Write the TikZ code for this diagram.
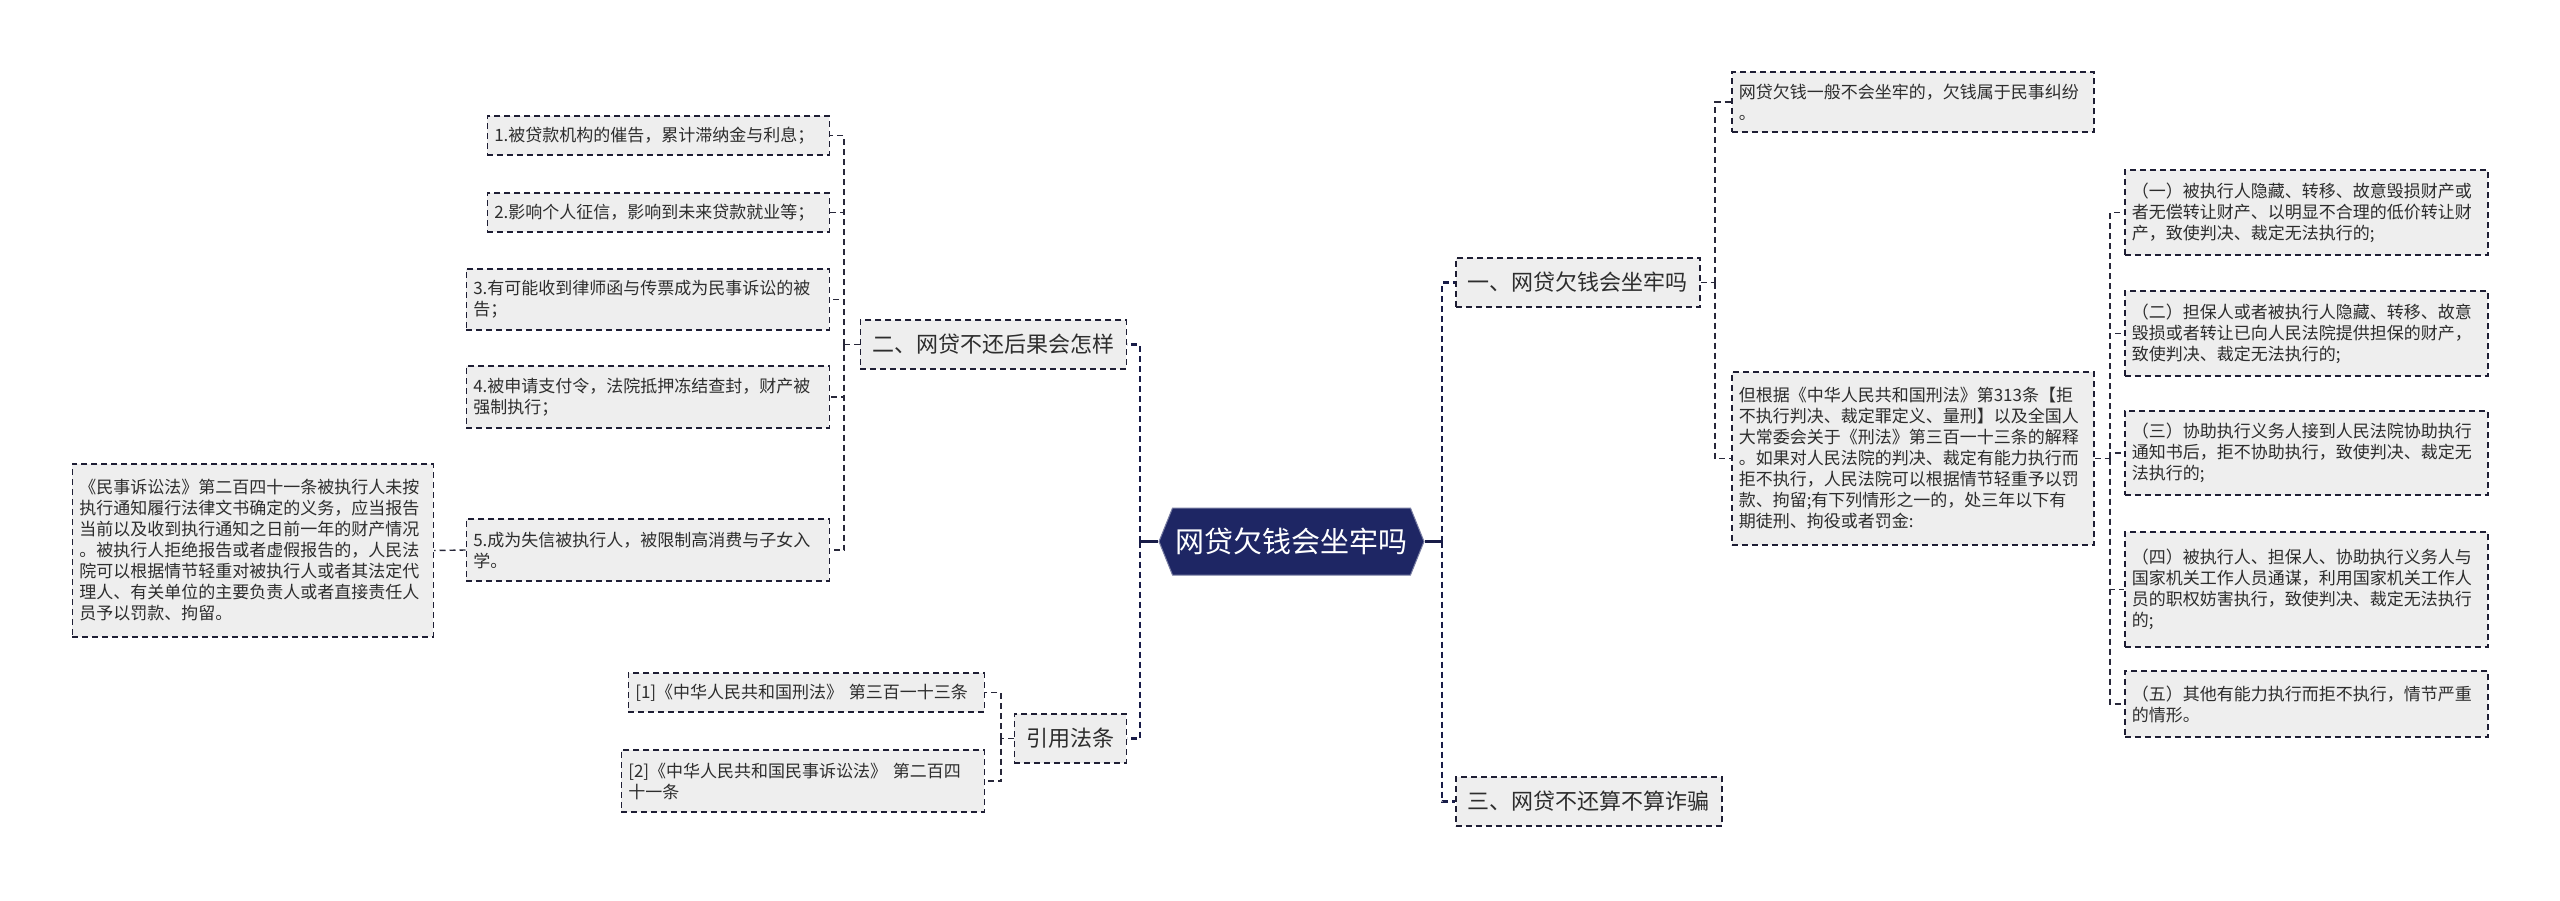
\documentclass[tikz,border=0pt]{standalone}
\usepackage{fontspec}
\newfontfamily\cjk{Noto Sans CJK SC}
\usetikzlibrary{shapes.symbols}
\definecolor{rootblue}{RGB}{30,38,100}
\definecolor{boxgray}{RGB}{238,238,238}
\definecolor{edgeblue}{RGB}{30,30,52}
\definecolor{trunkblue}{RGB}{24,28,72}
\definecolor{linegray}{RGB}{40,40,58}
\definecolor{textgray}{RGB}{45,45,45}

\tikzset{
  box/.style={draw=edgeblue, line width=1.5pt, dash pattern=on 6pt off 4pt,
    fill=boxgray, text=textgray, inner ysep=0pt},
  branch/.style={box, font=\cjk\fontsize{22}{26}\selectfont, inner xsep=12pt,
    minimum height=49pt},
  leaf/.style={box, font=\cjk\fontsize{17}{21}\selectfont, align=left,
    inner xsep=7pt},
  rootlink/.style={draw=trunkblue, line width=2.5pt},
  mainlink/.style={draw=trunkblue, line width=2.5pt, dash pattern=on 6pt off 4pt},
  leaflink/.style={draw=linegray, line width=1.4pt, dash pattern=on 6pt off 4pt},
}

\begin{document}
\begin{tikzpicture}[x=1pt,y=-1pt]

% Background
\fill[white] (0,0) rectangle (2560,900);
\useasboundingbox (0,0) rectangle (2560,900);

% Root
\node[signal, signal to=west and east, signal pointer angle=136,
  fill=rootblue, draw=rootblue!60!white, line width=1pt, text=white,
  font=\cjk\fontsize{29}{32}\selectfont, minimum width=265pt,
  minimum height=67pt, inner sep=0pt] (root) at (1291.5,541.5) {网贷欠钱会坐牢吗};

% Branches
\node[branch, anchor=east] (b2) at (1127,344.5) {二、网贷不还后果会怎样};
\node[branch, anchor=east] (b4) at (1127,738.5) {引用法条};
\node[branch, anchor=west] (b1) at (1455,282.5) {一、网贷欠钱会坐牢吗};
\node[branch, anchor=west] (b3) at (1455,801.5) {三、网贷不还算不算诈骗};

% Left leaves
\node[leaf, anchor=east, text width=328pt, minimum height=39pt] (i1) at (830,135.5)
  {1.被贷款机构的催告，累计滞纳金与利息；};
\node[leaf, anchor=east, text width=328pt, minimum height=39pt] (i2) at (830,212.5)
  {2.影响个人征信，影响到未来贷款就业等；};
\node[leaf, anchor=east, text width=349pt, minimum height=61pt] (i3) at (830,299.5)
  {3.有可能收到律师函与传票成为民事诉讼的被\\告；};
\node[leaf, anchor=east, text width=349pt, minimum height=62pt] (i4) at (830,397)
  {4.被申请支付令，法院抵押冻结查封，财产被\\强制执行；};
\node[leaf, anchor=east, text width=349pt, minimum height=62pt] (i5) at (830,550)
  {5.成为失信被执行人，被限制高消费与子女入\\学。};
\node[leaf, anchor=east, text width=347pt, minimum height=173pt] (note) at (434,550.5)
  {《民事诉讼法》第二百四十一条被执行人未按\\执行通知履行法律文书确定的义务，应当报告\\当前以及收到执行通知之日前一年的财产情况\\。被执行人拒绝报告或者虚假报告的，人民法\\院可以根据情节轻重对被执行人或者其法定代\\理人、有关单位的主要负责人或者直接责任人\\员予以罚款、拘留。};
\node[leaf, anchor=east, text width=342pt, minimum height=39pt] (ref1) at (985,692.5)
  {[1]《中华人民共和国刑法》 第三百一十三条};
\node[leaf, anchor=east, text width=349pt, minimum height=62pt] (ref2) at (985,781)
  {[2]《中华人民共和国民事诉讼法》 第二百四\\十一条};

% Right leaves
\node[leaf, anchor=west, text width=348pt, minimum height=60pt] (r1) at (1731,102)
  {网贷欠钱一般不会坐牢的，欠钱属于民事纠纷\\。};
\node[leaf, anchor=west, text width=348pt, minimum height=173pt] (r2) at (1731,458.5)
  {但根据《中华人民共和国刑法》第313条【拒\\不执行判决、裁定罪定义、量刑】以及全国人\\大常委会关于《刑法》第三百一十三条的解释\\。如果对人民法院的判决、裁定有能力执行而\\拒不执行，人民法院可以根据情节轻重予以罚\\款、拘留;有下列情形之一的，处三年以下有\\期徒刑、拘役或者罚金:};
\node[leaf, anchor=west, text width=349pt, minimum height=85pt] (s1) at (2124,212.5)
  {（一）被执行人隐藏、转移、故意毁损财产或\\者无偿转让财产、以明显不合理的低价转让财\\产，致使判决、裁定无法执行的;};
\node[leaf, anchor=west, text width=349pt, minimum height=85pt] (s2) at (2124,333.5)
  {（二）担保人或者被执行人隐藏、转移、故意\\毁损或者转让已向人民法院提供担保的财产，\\致使判决、裁定无法执行的;};
\node[leaf, anchor=west, text width=349pt, minimum height=84pt] (s3) at (2124,453)
  {（三）协助执行义务人接到人民法院协助执行\\通知书后，拒不协助执行，致使判决、裁定无\\法执行的;};
\node[leaf, anchor=west, text width=349pt, minimum height=115pt] (s4) at (2124,589.5)
  {（四）被执行人、担保人、协助执行义务人与\\国家机关工作人员通谋，利用国家机关工作人\\员的职权妨害执行，致使判决、裁定无法执行\\的;};
\node[leaf, anchor=west, text width=349pt, minimum height=66pt] (s5) at (2124,704)
  {（五）其他有能力执行而拒不执行，情节严重\\的情形。};

% Root connectors
\coordinate (lj) at (1140,541.5);
\coordinate (rj) at (1442,541.5);
\draw[rootlink] (root.west) -- (lj);
\draw[rootlink] (root.east) -- (rj);
\foreach \n in {b2,b4} \draw[mainlink] (lj) |- (\n.east);
\foreach \n in {b1,b3} \draw[mainlink] (rj) |- (\n.west);

% Leaf connectors
\coordinate (j2) at (844,344.5);
\draw[leaflink] (b2.west) -- (j2);
\foreach \n in {i1,i2,i3,i4,i5} \draw[leaflink] (j2) |- (\n.east);
\draw[leaflink] (i5.west) -- (note.east);

\coordinate (j4) at (1001,738.5);
\draw[leaflink] (b4.west) -- (j4);
\foreach \n in {ref1,ref2} \draw[leaflink] (j4) |- (\n.east);

\coordinate (j1) at (1715,282.5);
\draw[leaflink] (b1.east) -- (j1);
\foreach \n in {r1,r2} \draw[leaflink] (j1) |- (\n.west);

\coordinate (j5) at (2110,458.5);
\draw[leaflink] (r2.east) -- (j5);
\foreach \n in {s1,s2,s3,s4,s5} \draw[leaflink] (j5) |- (\n.west);

\end{tikzpicture}
\end{document}
